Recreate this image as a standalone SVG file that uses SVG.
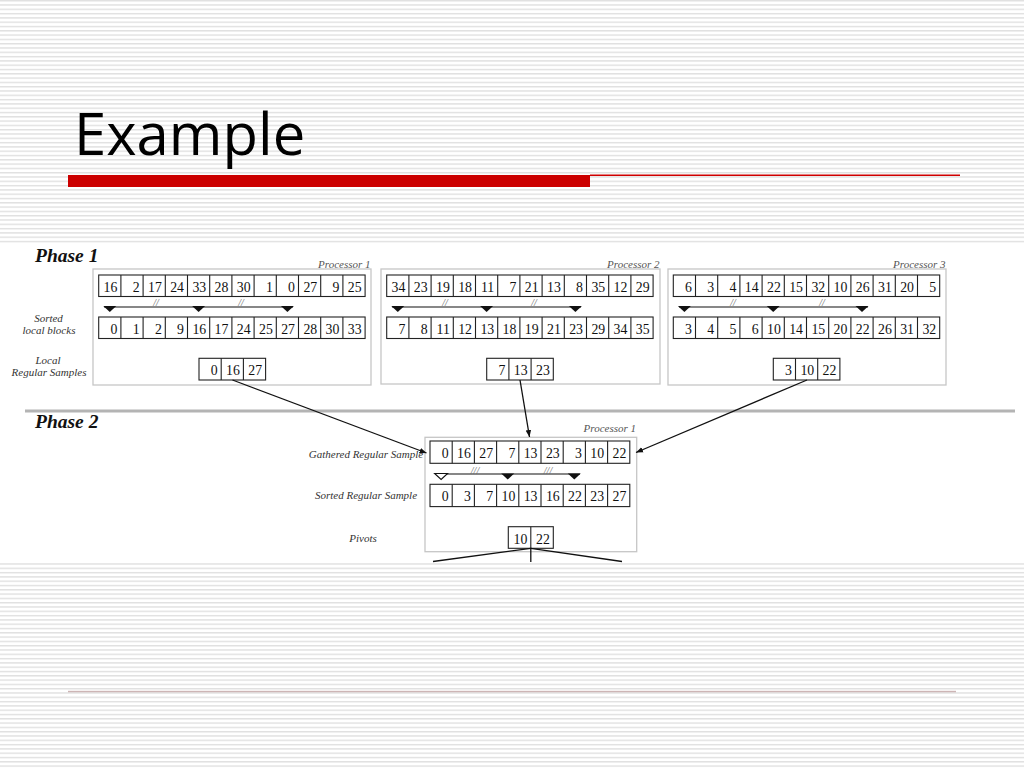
<svg xmlns="http://www.w3.org/2000/svg" xmlns:xlink="http://www.w3.org/1999/xlink" width="1024" height="768" viewBox="0 0 1024 768">
<style>
.cell{fill:#fff;stroke:#222;stroke-width:1.1}
.div{fill:none;stroke:#222;stroke-width:1.1}
.num{font-family:"Liberation Serif",serif;font-size:13.8px;text-anchor:end;fill:#111}
.lbl{font-family:"Liberation Serif",serif;font-style:italic;font-size:11px;fill:#333;text-anchor:middle}
.proc{font-family:"Liberation Serif",serif;font-style:italic;font-size:11px;fill:#555;text-anchor:end}
.pbox{fill:#fff;stroke:#c6c6c6;stroke-width:1.3}
.phase{font-family:"Liberation Serif",serif;font-style:italic;font-weight:bold;font-size:19.5px;fill:#111}
.conn{stroke:#111;stroke-width:1.3;fill:none}
.tline{stroke:#111;stroke-width:1.2;fill:none}
.tri{fill:#111}
.trio{fill:#fff;stroke:#111;stroke-width:1.1}
.mark{font-family:"Liberation Serif",serif;font-style:italic;font-size:10px;fill:#666;text-anchor:middle}
.title{font-family:"Open Sans","Liberation Sans",sans-serif;font-size:58px;fill:#000}
</style>
<defs>
<pattern id="stripes" width="8" height="4.3" patternUnits="userSpaceOnUse">
<rect width="8" height="4.3" fill="#fff"/>
<rect width="8" height="1.4" fill="#e0e0e0"/>
</pattern>
<marker id="arr" viewBox="0 0 10 10" refX="10" refY="5" markerWidth="7" markerHeight="7" markerUnits="userSpaceOnUse" orient="auto">
<path d="M0,1 L10,5 L0,9 z" fill="#111"/>
</marker>
<path id="div12" d="M22.2 0v21.5M44.4 0v21.5M66.6 0v21.5M88.8 0v21.5M111 0v21.5M133.2 0v21.5M155.4 0v21.5M177.6 0v21.5M199.8 0v21.5M222 0v21.5M244.2 0v21.5"/>
<path id="div9" d="M22.2 0v22.3M44.4 0v22.3M66.6 0v22.3M88.8 0v22.3M111 0v22.3M133.2 0v22.3M155.4 0v22.3M177.6 0v22.3"/>
<path id="div3" d="M22.2 0v21.7M44.4 0v21.7"/>
<polygon id="tri" points="-6.5,0 6.5,0 0,6"/>
</defs>

<rect width="1024" height="768" fill="url(#stripes)"/>

<g id="title">
<text class="title" x="74" y="154.5">Example</text>
<rect x="68" y="175" width="522" height="12" fill="#cc0000"/>
<rect x="590" y="174.5" width="370" height="1.5" fill="#d00000"/>
</g>
<rect id="footer-rule" x="68" y="690.8" width="888" height="1.5" fill="#cdb5b5"/>

<rect id="diagram-bg" x="0" y="243" width="1024" height="319.5" fill="#fff"/>

<text class="phase" x="35" y="262">Phase 1</text>
<line x1="25" y1="411" x2="1015" y2="411" stroke="#b4b4b4" stroke-width="3"/>
<text class="phase" x="35" y="428">Phase 2</text>

<g id="row-labels">
<text class="lbl" x="48.5" y="321.5">Sorted</text>
<text class="lbl" x="49" y="333.5">local blocks</text>
<text class="lbl" x="48" y="363.5">Local</text>
<text class="lbl" x="49" y="376">Regular Samples</text>
</g>

<g id="p1">
<rect class="pbox" x="93" y="269" width="278" height="116"/>
<text class="proc" x="370.5" y="267.5">Processor 1</text>
<g id="p1-local" transform="translate(98.7,275)">
<rect class="cell" width="266.4" height="21.5"/><use href="#div12" class="div"/>
<g class="num"><text x="18.7" y="16.5">16</text><text x="40.9" y="16.5">2</text><text x="63.1" y="16.5">17</text><text x="85.3" y="16.5">24</text><text x="107.5" y="16.5">33</text><text x="129.7" y="16.5">28</text><text x="151.9" y="16.5">30</text><text x="174.1" y="16.5">1</text><text x="196.3" y="16.5">0</text><text x="218.5" y="16.5">27</text><text x="240.7" y="16.5">9</text><text x="262.9" y="16.5">25</text></g>
</g>
<g id="p1-marks">
<path class="tline" d="M104 307H293"/>
<use href="#tri" class="tri" x="109.8" y="306"/><use href="#tri" class="tri" x="198.6" y="306"/><use href="#tri" class="tri" x="287.4" y="306"/>
<text class="mark" x="156" y="306">//</text><text class="mark" x="241" y="306">//</text>
</g>
<g id="p1-sorted" transform="translate(98.7,317)">
<rect class="cell" width="266.4" height="21.5"/><use href="#div12" class="div"/>
<g class="num"><text x="18.7" y="16.5">0</text><text x="40.9" y="16.5">1</text><text x="63.1" y="16.5">2</text><text x="85.3" y="16.5">9</text><text x="107.5" y="16.5">16</text><text x="129.7" y="16.5">17</text><text x="151.9" y="16.5">24</text><text x="174.1" y="16.5">25</text><text x="196.3" y="16.5">27</text><text x="218.5" y="16.5">28</text><text x="240.7" y="16.5">30</text><text x="262.9" y="16.5">33</text></g>
</g>
<g id="p1-samples" transform="translate(199,358.3)">
<rect class="cell" width="66.6" height="21.7"/><use href="#div3" class="div"/>
<g class="num"><text x="18.7" y="17">0</text><text x="40.9" y="17">16</text><text x="63.1" y="17">27</text></g>
</g>
</g>

<g id="p2">
<rect class="pbox" x="381" y="269" width="279" height="115"/>
<text class="proc" x="659.5" y="267.5">Processor 2</text>
<g id="p2-local" transform="translate(386.7,275)">
<rect class="cell" width="266.4" height="21.5"/><use href="#div12" class="div"/>
<g class="num"><text x="18.7" y="16.5">34</text><text x="40.9" y="16.5">23</text><text x="63.1" y="16.5">19</text><text x="85.3" y="16.5">18</text><text x="107.5" y="16.5">11</text><text x="129.7" y="16.5">7</text><text x="151.9" y="16.5">21</text><text x="174.1" y="16.5">13</text><text x="196.3" y="16.5">8</text><text x="218.5" y="16.5">35</text><text x="240.7" y="16.5">12</text><text x="262.9" y="16.5">29</text></g>
</g>
<g id="p2-marks">
<path class="tline" d="M392 307H581"/>
<use href="#tri" class="tri" x="397.8" y="306"/><use href="#tri" class="tri" x="486.6" y="306"/><use href="#tri" class="tri" x="575.4" y="306"/>
<text class="mark" x="445" y="306">//</text><text class="mark" x="534" y="306">//</text>
</g>
<g id="p2-sorted" transform="translate(386.7,317)">
<rect class="cell" width="266.4" height="21.5"/><use href="#div12" class="div"/>
<g class="num"><text x="18.7" y="16.5">7</text><text x="40.9" y="16.5">8</text><text x="63.1" y="16.5">11</text><text x="85.3" y="16.5">12</text><text x="107.5" y="16.5">13</text><text x="129.7" y="16.5">18</text><text x="151.9" y="16.5">19</text><text x="174.1" y="16.5">21</text><text x="196.3" y="16.5">23</text><text x="218.5" y="16.5">29</text><text x="240.7" y="16.5">34</text><text x="262.9" y="16.5">35</text></g>
</g>
<g id="p2-samples" transform="translate(486.7,358.3)">
<rect class="cell" width="66.6" height="21.7"/><use href="#div3" class="div"/>
<g class="num"><text x="18.7" y="17">7</text><text x="40.9" y="17">13</text><text x="63.1" y="17">23</text></g>
</g>
</g>

<g id="p3">
<rect class="pbox" x="668" y="269" width="278" height="116"/>
<text class="proc" x="945.5" y="267.5">Processor 3</text>
<g id="p3-local" transform="translate(673.3,275)">
<rect class="cell" width="266.4" height="21.5"/><use href="#div12" class="div"/>
<g class="num"><text x="18.7" y="16.5">6</text><text x="40.9" y="16.5">3</text><text x="63.1" y="16.5">4</text><text x="85.3" y="16.5">14</text><text x="107.5" y="16.5">22</text><text x="129.7" y="16.5">15</text><text x="151.9" y="16.5">32</text><text x="174.1" y="16.5">10</text><text x="196.3" y="16.5">26</text><text x="218.5" y="16.5">31</text><text x="240.7" y="16.5">20</text><text x="262.9" y="16.5">5</text></g>
</g>
<g id="p3-marks">
<path class="tline" d="M679 307H868"/>
<use href="#tri" class="tri" x="684.4" y="306"/><use href="#tri" class="tri" x="773.2" y="306"/><use href="#tri" class="tri" x="862" y="306"/>
<text class="mark" x="733" y="306">//</text><text class="mark" x="822" y="306">//</text>
</g>
<g id="p3-sorted" transform="translate(673.3,317)">
<rect class="cell" width="266.4" height="21.5"/><use href="#div12" class="div"/>
<g class="num"><text x="18.7" y="16.5">3</text><text x="40.9" y="16.5">4</text><text x="63.1" y="16.5">5</text><text x="85.3" y="16.5">6</text><text x="107.5" y="16.5">10</text><text x="129.7" y="16.5">14</text><text x="151.9" y="16.5">15</text><text x="174.1" y="16.5">20</text><text x="196.3" y="16.5">22</text><text x="218.5" y="16.5">26</text><text x="240.7" y="16.5">31</text><text x="262.9" y="16.5">32</text></g>
</g>
<g id="p3-samples" transform="translate(773.3,358.3)">
<rect class="cell" width="66.6" height="21.7"/><use href="#div3" class="div"/>
<g class="num"><text x="18.7" y="17">3</text><text x="40.9" y="17">10</text><text x="63.1" y="17">22</text></g>
</g>
</g>

<g id="phase2-labels">
<text class="lbl" x="366" y="458.3">Gathered Regular Sample</text>
<text class="lbl" x="366" y="499">Sorted Regular Sample</text>
<text class="lbl" x="363" y="541.5">Pivots</text>
</g>

<g id="p2-proc1">
<rect class="pbox" x="425" y="437.3" width="211.7" height="114.4"/>
<text class="proc" x="636" y="432">Processor 1</text>
<g id="gathered" transform="translate(430,441)">
<rect class="cell" width="199.8" height="22.3"/><use href="#div9" class="div"/>
<g class="num"><text x="18.7" y="17">0</text><text x="40.9" y="17">16</text><text x="63.1" y="17">27</text><text x="85.3" y="17">7</text><text x="107.5" y="17">13</text><text x="129.7" y="17">23</text><text x="151.9" y="17">3</text><text x="174.1" y="17">10</text><text x="196.3" y="17">22</text></g>
</g>
<g id="gathered-marks">
<path class="tline" d="M436.5 474H580"/>
<use href="#tri" class="trio" x="441.1" y="473.5"/><use href="#tri" class="tri" x="507.7" y="473.5"/><use href="#tri" class="tri" x="574.3" y="473.5"/>
<text class="mark" x="475" y="473.5">///</text><text class="mark" x="548" y="473.5">///</text>
</g>
<g id="sorted-sample" transform="translate(430,484.3)">
<rect class="cell" width="199.8" height="22.3"/><use href="#div9" class="div"/>
<g class="num"><text x="18.7" y="17">0</text><text x="40.9" y="17">3</text><text x="63.1" y="17">7</text><text x="85.3" y="17">10</text><text x="107.5" y="17">13</text><text x="129.7" y="17">16</text><text x="151.9" y="17">22</text><text x="174.1" y="17">23</text><text x="196.3" y="17">27</text></g>
</g>
<g id="pivots" transform="translate(508.3,526.7)">
<rect class="cell" width="45" height="21.6"/><path class="div" d="M22.5 0v21.6"/>
<g class="num"><text x="19" y="17">10</text><text x="41.5" y="17">22</text></g>
</g>
</g>

<g id="connectors">
<path class="conn" d="M232.5 380L426.5 453" marker-end="url(#arr)"/>
<path class="conn" d="M520 380L529.5 437" marker-end="url(#arr)"/>
<path class="conn" d="M807 380L636 452.5" marker-end="url(#arr)"/>
<path class="conn" d="M530.8 548.3L433 561.5"/>
<path class="conn" d="M530.8 548.3L622 561.5"/>
<path class="conn" d="M530.8 548.3V562"/>
</g>
</svg>
